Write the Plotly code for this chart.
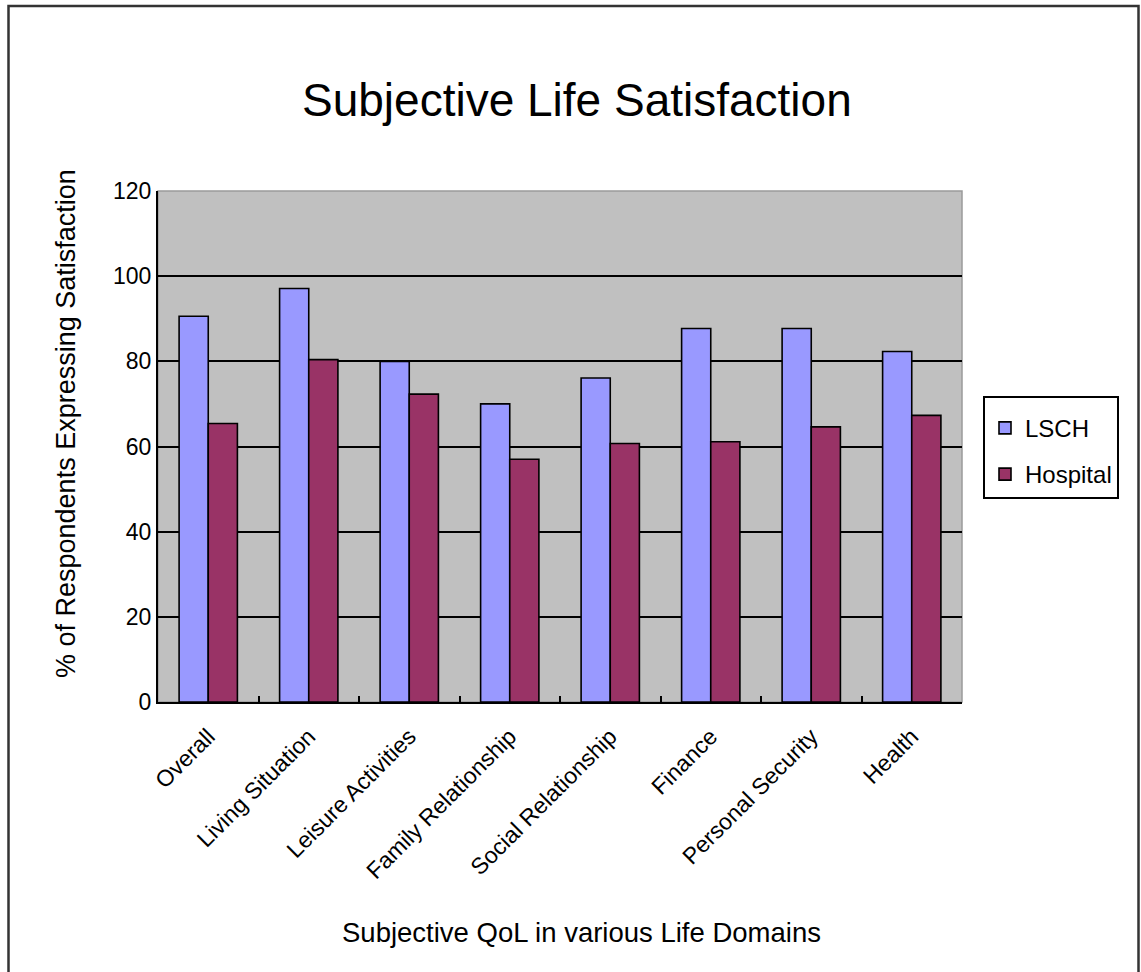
import plotly.graph_objects as go

# Life domains and the share of respondents satisfied in each group
domains = [
    "Overall",
    "Living Situation",
    "Leisure Activities",
    "Family Relationship",
    "Social Relationship",
    "Finance",
    "Personal Security",
    "Health",
]
lsch = [90.6, 97.1, 80.0, 70.0, 76.1, 87.7, 87.7, 82.3]
hospital = [65.4, 80.4, 72.3, 57.0, 60.7, 61.1, 64.6, 67.3]

y_ticks = [0, 20, 40, 60, 80, 100, 120]

FONT = "Liberation Sans, Arial, sans-serif"

W, H = 1141, 972
L, R, T, B = 158, 179, 191, 270
PW, PH = W - L - R, H - T - B


def px_x(px):
    return (px - L) / PW


def px_y(py):
    return (H - B - py) / PH


fig = go.Figure()
fig.add_trace(go.Bar(
    x=domains, y=lsch, name="LSCH",
    marker=dict(color="#9999FF", line=dict(color="#000000", width=1.6)),
    legendgroup="a",
))
fig.add_trace(go.Bar(
    x=domains, y=hospital, name="Hospital",
    marker=dict(color="#993366", line=dict(color="#000000", width=1.6)),
    legendgroup="b",
))

fig.update_layout(
    width=W, height=H,
    margin=dict(l=L, r=R, t=T, b=B, autoexpand=False),
    paper_bgcolor="white",
    plot_bgcolor="#C0C0C0",
    barmode="group",
    bargap=0.42,
    bargroupgap=0,
    font=dict(family=FONT, color="#000000"),
    showlegend=True,
    legend=dict(
        x=px_x(983), y=px_y(396), xanchor="left", yanchor="top",
        bordercolor="#000000", borderwidth=2, bgcolor="white",
        font=dict(size=24, family=FONT),
        traceorder="grouped", tracegroupgap=12,
        title=dict(text=" ", font=dict(size=6)),
        entrywidth=110,
    ),
    xaxis=dict(
        showline=True, linecolor="#000000", linewidth=2,
        ticks="inside", tickson="boundaries", ticklen=6, tickcolor="#000000",
        tickwidth=1.5,
        tickangle=-45, tickfont=dict(size=23, family=FONT),
        ticklabelstandoff=10,
        showgrid=False,
    ),
    yaxis=dict(
        range=[0, 120], tickvals=y_ticks,
        showline=True, linecolor="#000000", linewidth=2,
        ticks="inside", ticklen=5, tickcolor="#000000",
        showgrid=True, gridcolor="#000000", gridwidth=1.5,
        zeroline=False,
        tickfont=dict(size=23, family=FONT),
    ),
    shapes=[
        # light frame around the plotting area (top and right edges)
        dict(type="rect", xref="paper", yref="paper", x0=0, x1=1, y0=0, y1=1,
             line=dict(color="#9A9A9A", width=1.5), layer="below"),
        # outer chart border
        dict(type="rect", xref="paper", yref="paper",
             x0=px_x(8.5), x1=px_x(1138.5), y0=px_y(990), y1=px_y(6),
             line=dict(color="#333333", width=2.5), layer="below"),
    ],
    annotations=[
        dict(text="Subjective Life Satisfaction", xref="paper", yref="paper",
             x=px_x(577), y=px_y(100), xanchor="center", yanchor="middle",
             showarrow=False, font=dict(size=46, family=FONT)),
        dict(text="% of Respondents Expressing Satisfaction", xref="paper", yref="paper",
             x=px_x(66), y=px_y(424), xanchor="center", yanchor="middle",
             textangle=-90, showarrow=False, font=dict(size=27, family=FONT)),
        dict(text="Subjective QoL in various Life Domains", xref="paper", yref="paper",
             x=px_x(581), y=px_y(932), xanchor="center", yanchor="middle",
             showarrow=False, font=dict(size=27.5, family=FONT)),
    ],
)

fig.write_html("out.html")
